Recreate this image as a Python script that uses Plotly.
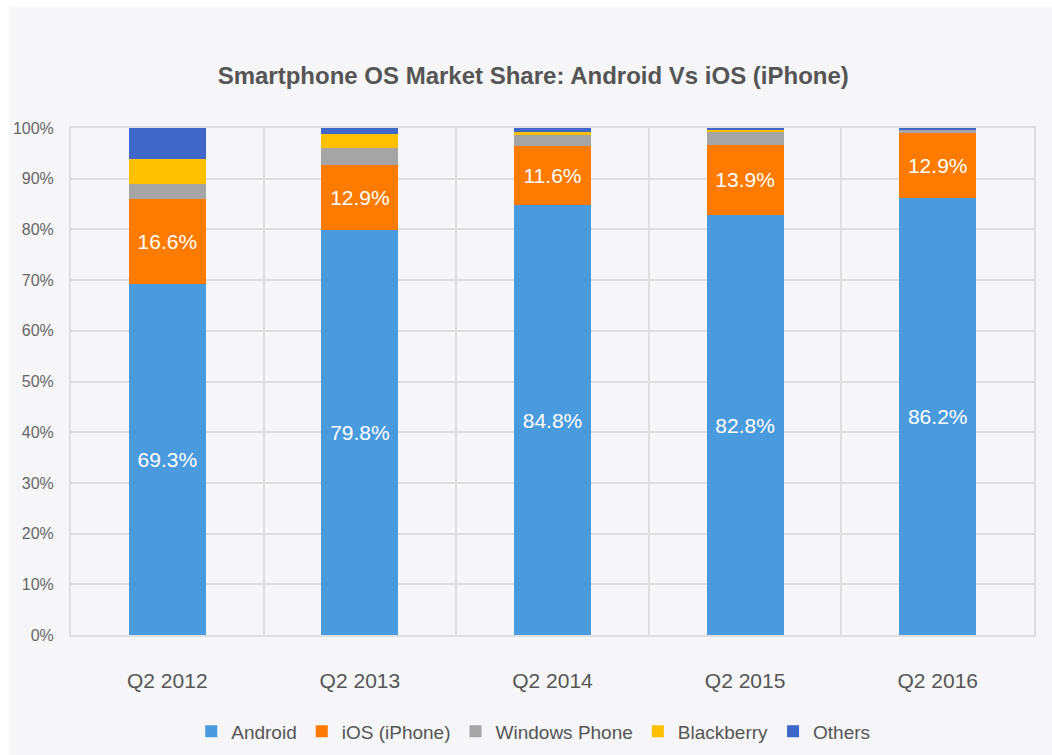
import plotly.graph_objects as go

quarters = ["Q2 2012", "Q2 2013", "Q2 2014", "Q2 2015", "Q2 2016"]
android = [69.3, 79.8, 84.8, 82.8, 86.2]
ios = [16.6, 12.9, 11.6, 13.9, 12.9]
windows = [3.1, 3.4, 2.3, 2.6, 0.6]
blackberry = [4.9, 2.8, 0.6, 0.3, 0.1]
others = [6.1, 1.1, 0.7, 0.4, 0.2]
y_ticks = [0, 10, 20, 30, 40, 50, 60, 70, 80, 90, 100]
y_tick_labels = [f"{v}%" for v in y_ticks]

FONT = "Liberation Sans, Arial, sans-serif"
BG = "#f6f5f7"

series = [
    ("Android", android, "#4a9bdd", True),
    ("iOS (iPhone)", ios, "#ff7b00", True),
    ("Windows Phone", windows, "#a5a5a5", False),
    ("Blackberry", blackberry, "#ffc000", False),
    ("Others", others, "#3f66c9", False),
]

fig = go.Figure()
for name, vals, color, lab in series:
    fig.add_trace(go.Bar(
        x=quarters, y=vals, name=name,
        marker=dict(color=color, line=dict(width=0)),
        text=[f"{v}%" for v in vals] if lab else None,
        textposition="inside" if lab else "none",
        insidetextanchor="middle",
        textfont=dict(color="white", size=21, family=FONT),
        hoverinfo="name+y",
    ))

fig.update_layout(
    barmode="stack",
    bargap=0.6,
    width=1052, height=755,
    margin=dict(l=71, r=18, t=128, b=120, autoexpand=False),
    paper_bgcolor="white",
    plot_bgcolor=BG,
    font=dict(family=FONT, color="#595959"),
    title=dict(text="<b>Smartphone OS Market Share: Android Vs iOS (iPhone)</b>",
               x=0.48, xref="paper", xanchor="center", y=0.9, yref="container",
               yanchor="middle",
               font=dict(size=24, color="#555555", family=FONT)),
    legend=dict(orientation="h", x=0.48, xanchor="center", y=-0.19, yanchor="middle",
                font=dict(size=19, color="#555555", family=FONT),
                bgcolor="rgba(0,0,0,0)", itemsizing="constant", traceorder="normal"),
    xaxis=dict(tickson="boundaries", showgrid=True, gridcolor="#dedede", gridwidth=2,
               ticks="", showline=True, linecolor="#dedede", linewidth=2, mirror=True,
               tickfont=dict(size=21, color="#555555"), ticklabelstandoff=26),
    yaxis=dict(range=[0, 100], tickvals=y_ticks, ticktext=y_tick_labels,
               showgrid=True, gridcolor="#dedede", gridwidth=2, zeroline=False,
               showline=True, linecolor="#dedede", linewidth=2, mirror=True,
               tickfont=dict(size=16, color="#666666"), ticklabelstandoff=12),
    shapes=[dict(type="rect", xref="paper", yref="paper", layer="below",
                 x0=-0.064, x1=1.02, y0=-0.237, y1=1.238,
                 fillcolor=BG, line=dict(width=0))],
    uniformtext=dict(minsize=10, mode="show"),
)

fig.write_html("out.html")
